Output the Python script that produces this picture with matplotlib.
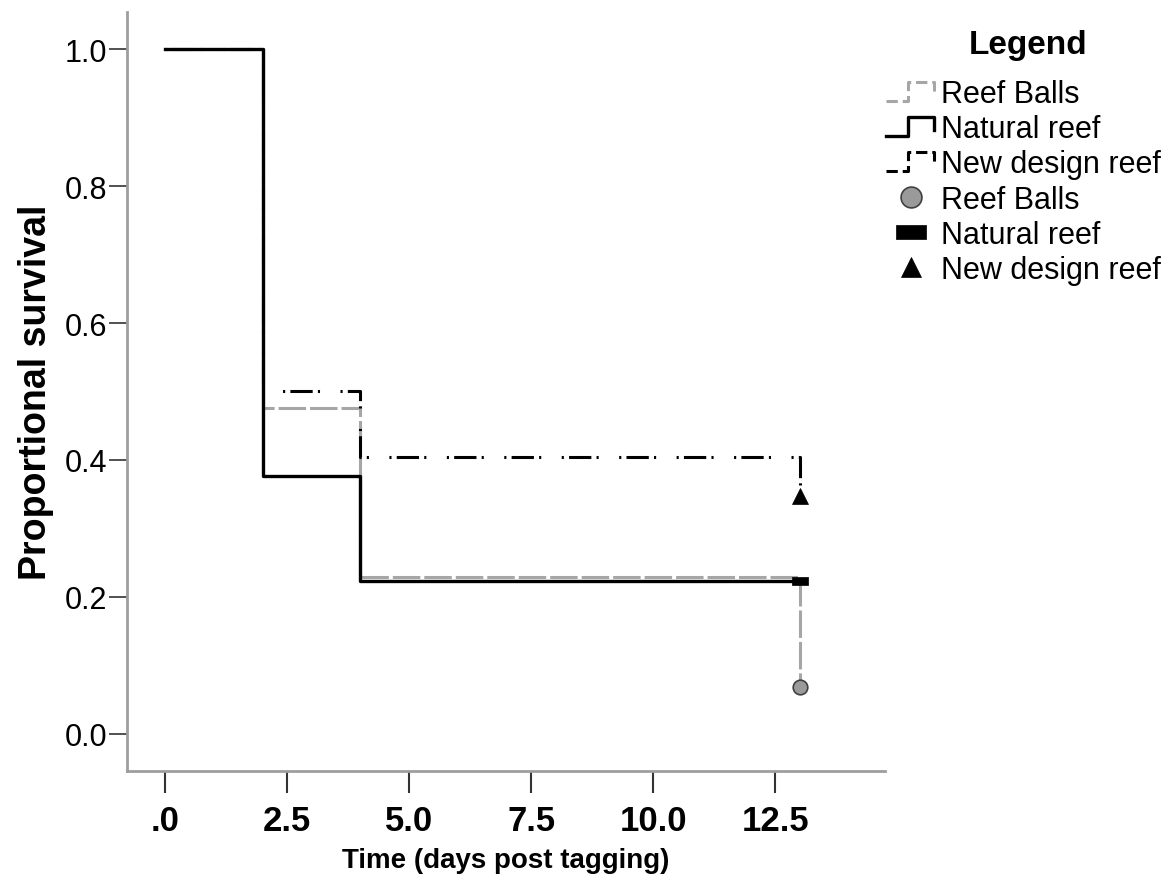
"""Kaplan-Meier style survival plot: proportional survival by reef type."""

import matplotlib
matplotlib.use('Agg')
import matplotlib.pyplot as plt
from matplotlib import font_manager
from matplotlib.legend_handler import HandlerBase
from matplotlib.lines import Line2D

# --- data ---
times = [0, 2, 4, 13]
reef_balls = [1.0, 0.476, 0.229, 0.069]
natural_reef = [1.0, 0.377, 0.223, 0.223]
new_design = [1.0, 0.500, 0.404, 0.347]

series_names = ['Reef Balls', 'Natural reef', 'New design reef']
censor_time = 13
censor_vals = [0.069, 0.223, 0.347]

x_ticks = [0, 2.5, 5.0, 7.5, 10.0, 12.5]
x_ticklabels = ['.0', '2.5', '5.0', '7.5', '10.0', '12.5']
y_ticks = [0.0, 0.2, 0.4, 0.6, 0.8, 1.0]
y_ticklabels = ['0.0', '0.2', '0.4', '0.6', '0.8', '1.0']

installed = {f.name for f in font_manager.fontManager.ttflist}
narrow = 'Liberation Sans Narrow' if 'Liberation Sans Narrow' in installed else 'Liberation Sans'
plt.rcParams['font.family'] = ['Liberation Sans', 'DejaVu Sans']

GRAY = '#a6a6a6'
styles = [
    dict(color=GRAY, lw=2.2, ls=(0, (9, 1.3))),
    dict(color='black', lw=2.4, ls='-'),
    dict(color='black', lw=2.2, ls=(0, (0.7, 1.7, 7.3, 1.7, 0.7, 6.7))),
]

rect = [(-1, -0.5), (1, -0.5), (1, 0.5), (-1, 0.5), (-1, -0.5)]
markers = [
    dict(marker='o', ms=10.5, mfc='#9a9a9a', mec='#404040', mew=1.2),
    dict(marker=rect, ms=11, mfc='black', mec='black', mew=0.5),
    dict(marker='^', ms=11, mfc='black', mec='black', mew=0.5),
]

fig = plt.figure(figsize=(11.69, 8.87), dpi=100)
ax = fig.add_axes([0.1086, 0.1297, 0.6485, 0.8556])

curves = [reef_balls, natural_reef, new_design]
order = [1, 0, 2]  # natural reef underneath
for i in order:
    ax.plot(times, curves[i], drawstyle='steps-post', zorder=2 + i, **styles[i])
for i in range(3):
    ax.plot([censor_time], [censor_vals[i]], ls='none', zorder=6, **markers[i])

ax.set_xlim(-0.78, 14.75)
ax.set_ylim(-0.054, 1.054)
ax.set_xticks(x_ticks)
ax.set_xticklabels(x_ticklabels, fontfamily=narrow, fontweight='bold', fontsize=25)
ax.set_yticks(y_ticks)
ax.set_yticklabels(y_ticklabels, fontsize=22)
ax.tick_params(axis='x', direction='out', length=16, width=1.5, color='#333333', pad=8)
ax.tick_params(axis='y', direction='out', length=13, width=1.2, color='#333333', pad=1)

for s in ['top', 'right']:
    ax.spines[s].set_visible(False)
for s in ['left', 'bottom']:
    ax.spines[s].set_color('#9e9e9e')
    ax.spines[s].set_linewidth(2)

ax.set_ylabel('Proportional survival', fontsize=27, fontweight='bold', labelpad=8)
ax.set_xlabel('Time (days post tagging)', fontsize=20, fontweight='bold', labelpad=7)


class StepHandler(HandlerBase):
    """Draws a small survival-step glyph for line entries."""
    def create_artists(self, legend, orig_handle, xdescent, ydescent,
                       width, height, fontsize, trans):
        x0 = -xdescent
        y0 = -ydescent
        xs = [x0, x0 + 0.45 * width, x0 + 0.45 * width, x0 + 0.97 * width, x0 + 0.97 * width]
        ys = [y0 + 0.05 * height, y0 + 0.05 * height, y0 + 0.95 * height,
              y0 + 0.95 * height, y0 + 0.35 * height]
        ln = Line2D(xs, ys, color=orig_handle.get_color(), lw=orig_handle.get_linewidth(),
                    ls=orig_handle.get_linestyle(), transform=trans)
        return [ln]


line_handles = [Line2D([], [], **styles[i]) for i in range(3)]
legend_markers = [
    dict(marker='o', ms=15, mfc='#9a9a9a', mec='#404040', mew=1.2),
    dict(marker=rect, ms=21, mfc='black', mec='black', mew=0.5),
    dict(marker='^', ms=15, mfc='black', mec='black', mew=0.5),
]
marker_handles = [Line2D([], [], ls='none', **legend_markers[i]) for i in range(3)]

handles = line_handles + marker_handles
labels = series_names + series_names
fig.text(0.8795, 0.949, 'Legend', fontsize=24, fontweight='bold', ha='center', va='center')
leg = fig.legend(handles, labels, loc='upper left', bbox_to_anchor=(0.740, 0.934),
                 frameon=False, fontsize=22,
                 handlelength=1.6, handletextpad=0.2, labelspacing=0.17,
                 borderpad=0.2,
                 handler_map={h: StepHandler() for h in line_handles})

fig.savefig('out.png', dpi=100)
